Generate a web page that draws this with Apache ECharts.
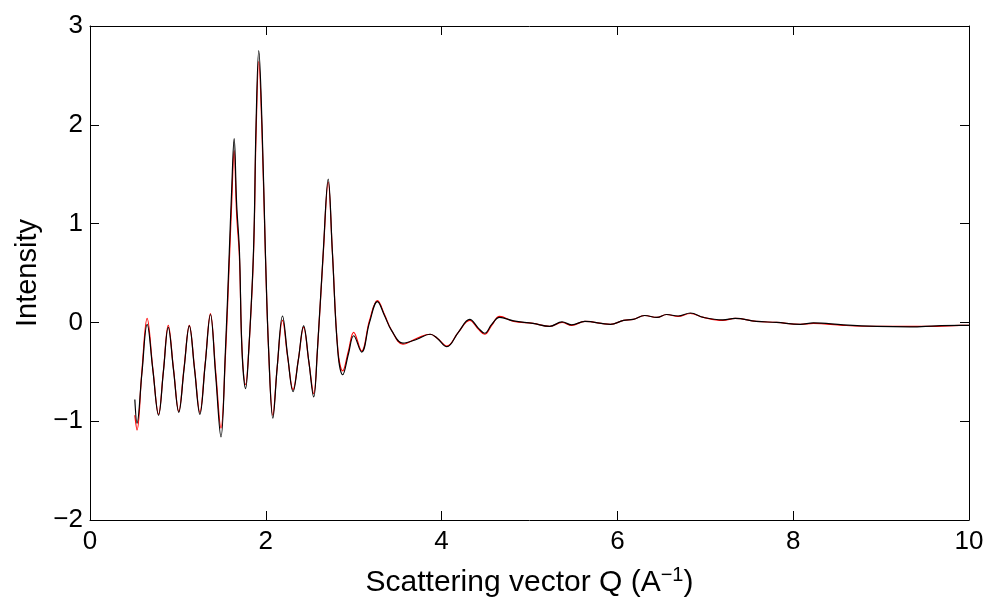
<!DOCTYPE html>
<html>
<head>
<meta charset="utf-8">
<script src="https://cdn.jsdelivr.net/npm/echarts@6/dist/echarts.min.js"></script>
<style>
html,body{margin:0;padding:0;background:#fff;}
#chart{width:988px;height:603px;}
</style>
</head>
<body>
<div id="chart"></div>
<script>
// Scattering vector Q (A^-1)
const q = [0.51,0.535,0.59,0.65,0.715,0.78,0.835,0.89,0.95,1.01,1.07,1.13,1.19,1.25,1.31,1.37,1.43,1.49,1.54,1.585,1.61,1.64,1.668,1.70,1.73,1.77,1.805,1.86,1.889,1.92,1.957,1.995,2.033,2.08,2.13,2.19,2.25,2.31,2.37,2.43,2.49,2.545,2.586,2.654,2.71,2.757,2.82,2.875,2.94,3.00,3.09,3.18,3.27,3.35,3.43,3.56,3.72,3.87,3.95,4.06,4.19,4.32,4.42,4.49,4.57,4.66,4.82,5.04,5.23,5.37,5.48,5.63,5.92,6.07,6.18,6.31,6.45,6.56,6.69,6.83,6.98,7.20,7.34,7.58,7.81,8.08,8.23,8.57,8.95,9.33,9.63,9.90,10.0];
// Intensity, black curve
const intensityBlack = [-0.78,-1.02,-0.52,-0.02,-0.48,-0.94,-0.50,-0.05,-0.48,-0.91,-0.47,-0.035,-0.48,-0.93,-0.43,0.08,-0.54,-1.16,-0.30,0.72,1.30,1.86,1.20,0.72,-0.30,-0.67,-0.30,0.72,2.0,2.75,2.0,0.72,-0.30,-0.97,-0.45,0.065,-0.35,-0.70,-0.38,-0.035,-0.40,-0.755,-0.30,0.72,1.45,0.72,-0.30,-0.53,-0.32,-0.135,-0.30,0.00,0.21,0.07,-0.08,-0.21,-0.17,-0.12,-0.16,-0.245,-0.10,0.03,-0.06,-0.11,-0.02,0.05,0.015,-0.01,-0.04,0.005,-0.025,0.01,-0.02,0.02,0.03,0.07,0.05,0.08,0.065,0.095,0.05,0.025,0.04,0.01,0.00,-0.02,-0.005,-0.025,-0.04,-0.045,-0.035,-0.03,-0.03];
// Intensity, red curve
const intensityRed = [-0.94,-1.09,-0.50,0.04,-0.47,-0.93,-0.49,-0.03,-0.47,-0.90,-0.46,-0.03,-0.47,-0.91,-0.42,0.09,-0.50,-1.07,-0.35,0.62,1.17,1.74,1.10,0.66,-0.28,-0.63,-0.30,0.68,1.90,2.64,1.92,0.70,-0.30,-0.94,-0.45,0.02,-0.36,-0.68,-0.38,-0.05,-0.40,-0.72,-0.30,0.70,1.42,0.72,-0.28,-0.49,-0.29,-0.10,-0.29,0.02,0.22,0.08,-0.08,-0.22,-0.16,-0.12,-0.16,-0.24,-0.10,0.02,-0.07,-0.12,-0.03,0.06,0.01,-0.01,-0.04,0.00,-0.03,0.01,-0.02,0.02,0.03,0.07,0.05,0.08,0.06,0.09,0.05,0.02,0.04,0.01,0.00,-0.02,-0.01,-0.03,-0.04,-0.04,-0.04,-0.03,-0.03];
const xTicks = [0,2,4,6,8,10];
const yTicks = [-2,-1,0,1,2,3];

const FONT = 'Liberation Sans';
const fmt = v => String(v).replace('-', '\u2212');

const chart = echarts.init(document.getElementById('chart'), null, {renderer:'canvas'});
const axisCommon = {
  axisLine:{show:true, onZero:false, lineStyle:{color:'#000', width:1}},
  axisTick:{show:true, inside:true, length:9, lineStyle:{color:'#000', width:1}},
  splitLine:{show:false}
};
chart.setOption({
  animation:false,
  backgroundColor:'#fff',
  grid:{left:90, right:19, top:26, bottom:79, containLabel:false},
  xAxis:[
    Object.assign({type:'value', position:'bottom', min:xTicks[0], max:xTicks[xTicks.length-1], interval:2,
      axisLabel:{show:true, color:'#000', fontFamily:FONT, fontSize:26, margin:9, formatter:fmt},
      name:'Scattering vector Q (A{sup|\u22121})',
      nameLocation:'middle', nameGap:45,
      nameTextStyle:{color:'#000', fontFamily:FONT, fontSize:30,
        rich:{sup:{fontFamily:FONT, fontSize:20, color:'#000', verticalAlign:'top', padding:[0,0,16,0]}}}
    }, axisCommon),
    Object.assign({type:'value', position:'top', min:0, max:10, interval:2, axisLabel:{show:false}}, axisCommon)
  ],
  yAxis:[
    Object.assign({type:'value', position:'left', min:yTicks[0], max:yTicks[yTicks.length-1], interval:1,
      axisLabel:{show:true, color:'#000', fontFamily:FONT, fontSize:26, margin:7, formatter:fmt},
      name:'Intensity', nameLocation:'middle', nameGap:48, nameRotate:90,
      nameTextStyle:{color:'#000', fontFamily:FONT, fontSize:29}
    }, axisCommon),
    Object.assign({type:'value', position:'right', min:-2, max:3, interval:1, axisLabel:{show:false}}, axisCommon)
  ],
  series:[
    {type:'line', name:'red', xAxisIndex:0, yAxisIndex:0, showSymbol:false, smooth:0.4,
     lineStyle:{color:'#ff0000', width:1.2}, data:q.map((v,i)=>[v,intensityRed[i]])},
    {type:'line', name:'black', xAxisIndex:0, yAxisIndex:0, showSymbol:false, smooth:0.4,
     lineStyle:{color:'#000000', width:1.2}, data:q.map((v,i)=>[v,intensityBlack[i]])}
  ]
});
</script>
</body>
</html>
